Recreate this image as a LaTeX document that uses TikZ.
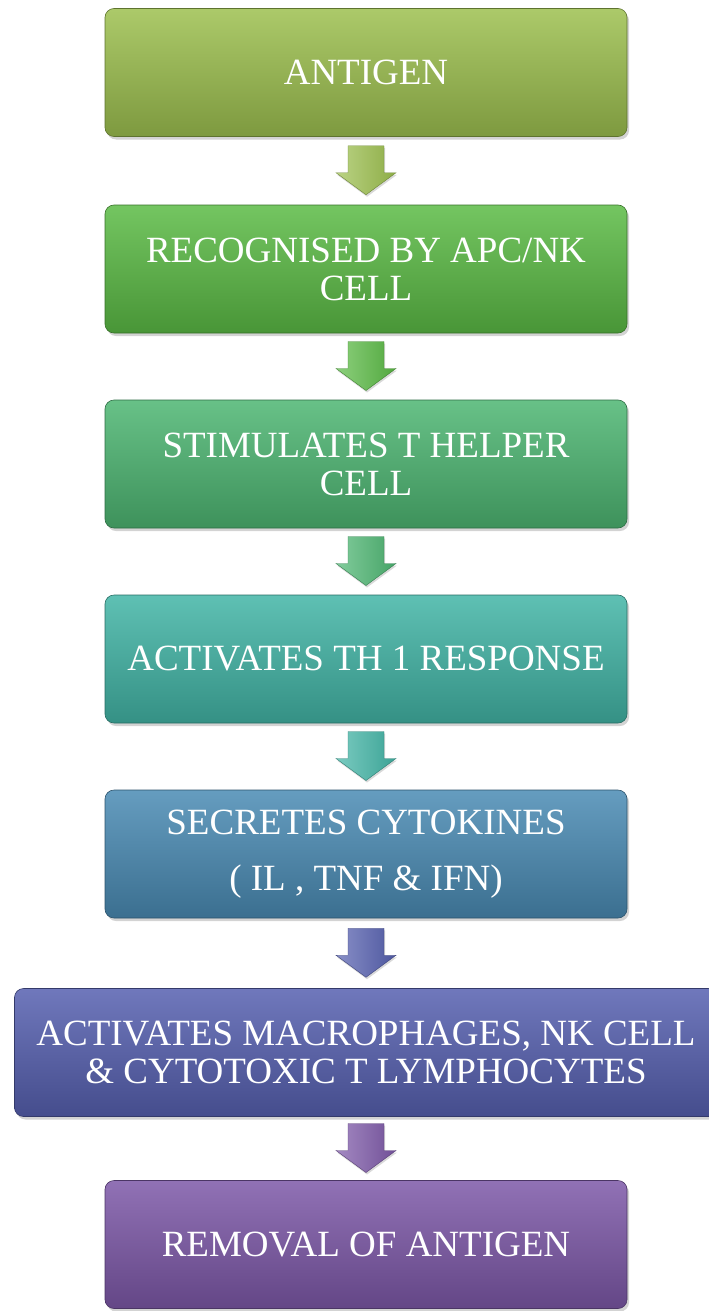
\documentclass[tikz,border=0pt]{standalone}
\usepackage{fontspec}
\setmainfont{Liberation Serif}
\usetikzlibrary{shadows,calc}

\definecolor{antigen}{HTML}{9DC04F}
\definecolor{recog}{HTML}{5BBB45}
\definecolor{stim}{HTML}{4DB672}
\definecolor{thone}{HTML}{42B5A6}
\definecolor{secr}{HTML}{4A8BB4}
\definecolor{macro}{HTML}{5660B0}
\definecolor{remov}{HTML}{7D58A8}

\begin{document}
\begin{tikzpicture}[x=1pt,y=1pt,
    stage/.style={rectangle, rounded corners=9pt, minimum width=522pt, minimum height=128pt,
        align=center, text=white, font=\fontsize{37}{38}\selectfont, inner sep=0pt,
        top color=#1!85!white, bottom color=#1!80!black, draw=#1!60!black, line width=0.6pt,
        drop shadow={shadow xshift=2pt, shadow yshift=-3pt, opacity=0.35}},
    flow/.style={left color=#1!70!white, right color=#1!90!black, draw=#1!70!black, line width=0.4pt,
        drop shadow={shadow xshift=1pt, shadow yshift=-2pt, opacity=0.3}}
    ]
    \useasboundingbox (0,0) rectangle (709,-1311);
    \begin{scope}
    \clip (0,0) rectangle (709,-1311);
    \node[stage=antigen] (antigen) at (366,-72.5) {ANTIGEN};
    \node[stage=recog] (recog) at (366,-269) {RECOGNISED BY APC/NK\\CELL};
    \node[stage=stim] (stim) at (366,-464) {STIMULATES T HELPER\\CELL};
    \node[stage=thone] (thone) at (366,-659) {ACTIVATES TH 1 RESPONSE};
    \node[stage=secr] (secr) at (366,-854) {SECRETES CYTOKINES\\[18pt]( IL , TNF \& IFN)};
    \node[stage=macro, minimum width=703pt] (macro) at (366,-1052.5) {ACTIVATES MACROPHAGES, NK CELL\\\& CYTOTOXIC T LYMPHOCYTES};
    \node[stage=remov] (remov) at (366,-1244.5) {REMOVAL OF ANTIGEN};
    \end{scope}

    \foreach \a/\b/\c in {antigen/recog/antigen, recog/stim/recog, stim/thone/stim,
                          thone/secr/thone, secr/macro/macro, macro/remov/remov}
        \path[flow=\c, shift={($(\a.south)!0.5!(\b.north)$)}]
            (-18,25) -- (18,25) -- (18,-2) -- (30,-2) -- (0,-24) -- (-30,-2) -- (-18,-2) -- cycle;
\end{tikzpicture}
\end{document}
